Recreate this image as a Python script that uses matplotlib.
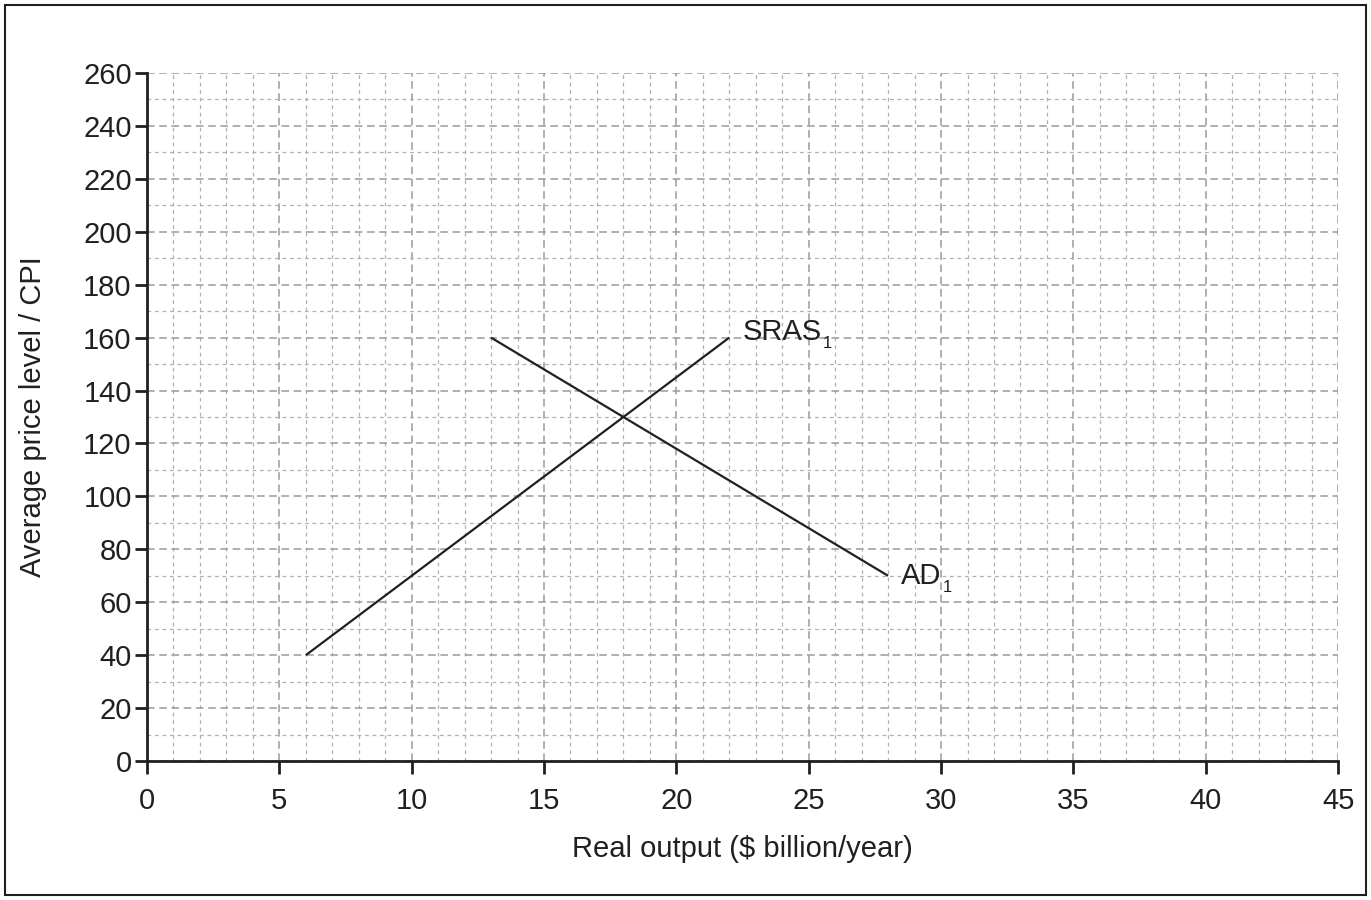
import matplotlib.pyplot as plt
from matplotlib.patches import Rectangle
from matplotlib.ticker import MultipleLocator

plt.rcParams["font.family"] = ["Liberation Sans", "DejaVu Sans"]

INK = "#231f20"

# curve end points (real output, price level)
sras_x = [6, 22]
sras_y = [40, 160]
ad_x = [13, 28]
ad_y = [160, 70]

curve_labels = [("SRAS", "1", 22.5, 162), ("AD", "1", 28.5, 70)]

fig = plt.figure(figsize=(13.71, 9.0), dpi=100)
ax = fig.add_axes([0.1072, 0.1544, 0.8688, 0.7645])

ax.set_xlim(0, 45)
ax.set_ylim(0, 260)
ax.xaxis.set_major_locator(MultipleLocator(5))
ax.xaxis.set_minor_locator(MultipleLocator(1))
ax.yaxis.set_major_locator(MultipleLocator(20))
ax.yaxis.set_minor_locator(MultipleLocator(10))

ax.grid(which="major", color="#9a9a9a", linestyle=(0, (5, 3)), linewidth=1.1)
ax.grid(which="minor", color="#b0b0b0", linestyle=(0, (3, 3)), linewidth=0.9)
ax.set_axisbelow(True)

for side in ["top", "right"]:
    ax.spines[side].set_visible(False)
for side in ["left", "bottom"]:
    ax.spines[side].set_linewidth(2)
    ax.spines[side].set_color(INK)

ax.tick_params(which="major", direction="out", length=9, width=2, labelsize=21,
               color=INK, labelcolor=INK)
ax.tick_params(axis="y", pad=2)
ax.tick_params(axis="x", pad=10)
ax.tick_params(which="minor", length=0)

ax.plot(sras_x, sras_y, color=INK, linewidth=1.6, solid_capstyle="butt")
ax.plot(ad_x, ad_y, color=INK, linewidth=1.6, solid_capstyle="butt")

for name, sub, lx, ly in curve_labels:
    t = ax.text(lx, ly, name, fontsize=21, color=INK, ha="left", va="center")
    ax.annotate(sub, xy=(1, 0), xycoords=t, xytext=(1, 2), textcoords="offset points",
                fontsize=12, color=INK, ha="left", va="center")

ax.set_xlabel("Real output ($ billion/year)", fontsize=21, color=INK, labelpad=14)
ax.set_ylabel("Average price level / CPI", fontsize=21, color=INK, labelpad=26)

fig.patches.append(Rectangle((0.004, 0.006), 0.992, 0.988, transform=fig.transFigure,
                             fill=False, edgecolor=INK, linewidth=1.5))

fig.savefig("out.png", dpi=100)
